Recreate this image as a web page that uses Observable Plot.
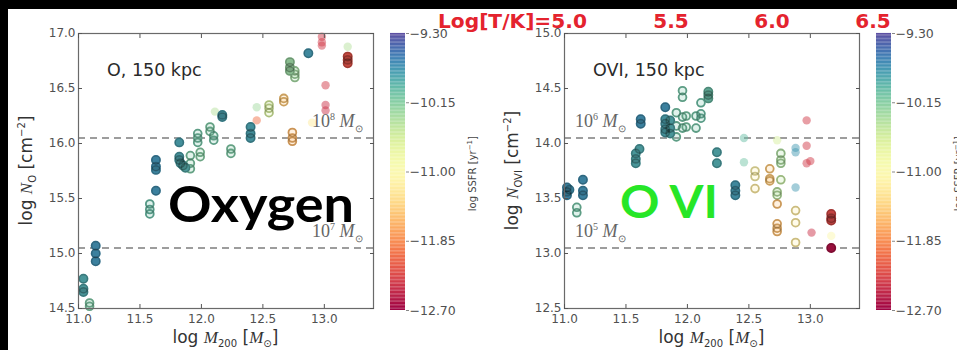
<!DOCTYPE html>
<html>
<head>
<meta charset="utf-8">
<script src="https://cdn.jsdelivr.net/npm/d3@7"></script>
<script src="https://cdn.jsdelivr.net/npm/@observablehq/plot@0.6"></script>
<style>
  html, body { margin: 0; padding: 0; background: #000; }
  #stage { position: relative; width: 957px; height: 350px; overflow: hidden; background: #000;
           font-family: "DejaVu Sans", sans-serif; }
  #sheet { position: absolute; left: 8px; top: 9px; width: 949px; height: 341px; background: #fff; }
  .layer { position: absolute; top: 0; }
  .lbl { position: absolute; white-space: nowrap; line-height: 1; }
  .m { font-family: "Liberation Serif", "DejaVu Serif", serif; font-style: italic; }
  .title { color: #333; font-size: 17px; }
  .title sub, .title sup { font-size: 10px; }
  .mass { font-family: "Liberation Serif", serif; color: #666; font-size: 18px; }
  .mass sup, .mass sub { font-size: 10px; }
  .note { color: #2a2a2a; font-size: 17.5px; }
  .cbtitle { color: #444; font-size: 10px; }
  .cbtitle sup { font-size: 7px; }
</style>
</head>
<body>
<div id="stage"><div id="sheet"></div></div>
<script>
// ---- shared axes ----
const massTicks = [11.0, 11.5, 12.0, 12.5, 13.0];
const massDomain = [11.0, 13.4];
const ssfrTicks = [-9.30, -10.15, -11.00, -11.85, -12.70];
const ssfrDomain = [-12.70, -9.30];
const tempTicks = [5.0, 5.5, 6.0, 6.5];

// ---- oxygen column densities within 150 kpc ----
const oxTicks = [14.5, 15.0, 15.5, 16.0, 16.5, 17.0];
const oxMass = [11.04, 11.04, 11.04, 11.09, 11.09, 11.14, 11.14, 11.14,
  11.58, 11.58, 11.58, 11.63, 11.63, 11.63, 11.63,
  11.82, 11.82, 11.82, 11.83, 11.85, 11.87, 11.91, 11.91, 11.91,
  11.97, 11.97, 11.97, 11.99, 11.99, 12.07, 12.07, 12.10, 12.10, 12.11,
  12.17, 12.17, 12.24, 12.24, 12.40, 12.40, 12.40, 12.45, 12.45,
  12.55, 12.55, 12.55, 12.67, 12.67, 12.74, 12.74, 12.74,
  12.72, 12.72, 12.72, 12.76, 12.76, 12.76, 12.87, 12.90,
  12.98, 12.98, 12.98, 13.01, 13.01, 13.01, 13.19, 13.19, 13.19, 13.19];
const oxColumn = [14.77, 14.68, 14.65, 14.55, 14.52, 15.07, 15.00, 14.93,
  15.45, 15.40, 15.36, 15.85, 15.79, 15.76, 15.57,
  16.01, 15.88, 15.85, 15.82, 15.80, 15.78, 15.89, 15.82, 15.77,
  16.09, 16.05, 16.01, 15.92, 15.88, 16.15, 16.11, 16.07, 16.03, 16.29,
  16.26, 16.24, 15.95, 15.91, 16.15, 16.09, 16.05, 16.33, 16.21,
  16.35, 16.32, 16.28, 16.41, 16.38, 16.10, 16.05, 16.02,
  16.74, 16.69, 16.66, 16.66, 16.63, 16.60, 16.82, 16.19,
  16.97, 16.92, 16.89, 16.53, 16.35, 16.30, 16.88, 16.79, 16.76, 16.73];
const oxSsfr = [-9.85, -9.85, -9.85, -10.10, -10.10, -9.70, -9.70, -9.70,
  -10.00, -10.00, -10.00, -9.70, -9.70, -9.72, -9.70,
  -9.80, -9.82, -9.82, -9.85, -9.85, -9.88, -10.10, -10.10, -10.10,
  -10.05, -10.05, -10.05, -10.15, -10.15, -10.10, -10.10, -10.05, -10.05, -10.40,
  -9.80, -9.80, -10.10, -10.10, -9.80, -9.80, -9.80, -10.30, -12.00,
  -10.60, -10.60, -10.60, -11.50, -11.50, -11.60, -11.60, -11.60,
  -10.25, -10.25, -10.25, -10.30, -10.30, -10.30, -9.75, -11.20,
  -12.35, -12.35, -12.35, -12.35, -12.40, -12.40, -10.40, -12.20, -12.20, -12.20];
const oxKind = ["solid", "solid", "solid", "open", "open", "solid", "solid", "solid",
  "open", "open", "open", "solid", "solid", "solid", "solid",
  "solid", "solid", "solid", "solid", "solid", "solid", "open", "open", "open",
  "open", "open", "open", "open", "open", "open", "open", "open", "open", "faint",
  "solid", "solid", "open", "open", "solid", "solid", "solid", "faint", "faint",
  "open", "open", "open", "open", "open", "open", "open", "open",
  "solid", "solid", "solid", "open", "open", "open", "solid", "faint",
  "faint", "faint", "faint", "faint", "faint", "faint", "faint", "solid", "solid", "solid"];
const oxLimits = [16.05, 15.05];
const oxLimitExp = ["8", "7"];

// ---- O VI column densities within 150 kpc ----
const oviTicks = [12.5, 13.0, 13.5, 14.0, 14.5, 15.0];
const oviMass = [11.02, 11.02, 11.02, 11.04, 11.10, 11.10, 11.15, 11.15, 11.15,
  11.62, 11.62, 11.58, 11.58, 11.58, 11.61,
  11.82, 11.82, 11.82, 11.82, 11.82, 11.86, 11.86, 11.86,
  11.91, 11.91, 11.91, 11.96, 11.96, 11.96, 11.96, 11.99, 11.99,
  12.07, 12.07, 12.11, 12.11, 12.11, 12.17, 12.17, 12.17, 12.24, 12.24,
  12.39, 12.39, 12.39, 12.46, 12.46, 12.55, 12.55, 12.55, 12.67, 12.67, 12.67,
  12.73, 12.73, 12.73, 12.73, 12.73, 12.73, 12.73, 12.76, 12.76, 12.76, 12.76,
  12.88, 12.88, 12.88, 12.88, 12.88, 12.88, 12.97, 12.97, 12.97, 13.00, 13.01,
  13.17, 13.17, 13.17, 13.17, 13.17];
const oviColumn = [13.60, 13.56, 13.53, 13.58, 13.42, 13.37, 13.67, 13.57, 13.53,
  14.22, 14.18, 13.91, 13.86, 13.82, 13.95,
  14.33, 14.22, 14.18, 14.13, 14.10, 14.21, 14.14, 14.09,
  14.28, 14.16, 14.06, 14.48, 14.42, 14.24, 14.14, 14.25, 14.15,
  14.25, 14.14, 14.37, 14.27, 14.23, 14.47, 14.44, 14.41, 13.92, 13.82,
  13.62, 13.57, 13.53, 14.05, 13.83, 13.75, 13.70, 13.59, 13.77, 13.68, 13.66,
  14.03, 13.56, 13.53, 13.45, 13.27, 13.23, 13.20, 13.91, 13.85, 13.82, 13.67,
  13.96, 13.92, 13.60, 13.39, 13.28, 13.10, 14.21, 13.98, 13.82, 13.84, 13.19,
  13.36, 13.32, 13.30, 13.16, 13.05];
const oviSsfr = [-9.70, -9.70, -9.70, -9.72, -10.05, -10.05, -9.70, -9.70, -9.70,
  -9.70, -9.70, -9.85, -9.85, -9.85, -9.85,
  -9.70, -9.80, -9.80, -9.82, -9.82, -9.85, -9.85, -9.85,
  -10.05, -10.05, -10.05, -10.05, -10.05, -10.05, -10.05, -10.08, -10.08,
  -10.05, -10.05, -10.02, -10.02, -10.02, -10.00, -10.00, -10.00, -9.85, -9.85,
  -9.75, -9.75, -9.75, -10.00, -10.05, -11.10, -11.10, -11.20, -11.50, -11.50, -11.50,
  -10.60, -10.40, -10.40, -11.55, -11.55, -11.55, -11.55, -10.35, -10.35, -10.35, -10.45,
  -9.75, -9.75, -9.75, -11.20, -11.20, -11.20, -12.35, -12.35, -12.35, -12.35, -12.40,
  -12.25, -12.25, -12.25, -11.00, -12.60];
const oviKind = ["solid", "solid", "solid", "solid", "open", "open", "solid", "solid", "solid",
  "solid", "solid", "solid", "solid", "solid", "solid",
  "solid", "solid", "solid", "solid", "solid", "solid", "solid", "solid",
  "open", "open", "open", "open", "open", "open", "open", "open", "open",
  "open", "open", "open", "open", "open", "solid", "solid", "solid", "solid", "solid",
  "solid", "solid", "solid", "faint", "faint", "open", "open", "open", "open", "open", "open",
  "faint", "open", "open", "open", "open", "open", "open", "open", "open", "open", "open",
  "faint", "faint", "faint", "open", "open", "open", "faint", "faint", "faint", "faint", "faint",
  "solid", "solid", "solid", "faint", "solid"];
const oviLimits = [14.05, 13.05];
const oviLimitExp = ["6", "5"];

const stage = document.getElementById("stage");
const minus = s => s.replace("-", "\u2212");

function addLabel(html, cls, left, top) {
  const el = document.createElement("div");
  el.className = "lbl " + cls;
  el.innerHTML = html;
  el.style.left = left + "px";
  el.style.top = top + "px";
  stage.appendChild(el);
  return el;
}

function panel({left, mass, column, ssfr, kind, yDomain, yTicks, limits, limitExp,
                yTitle, note, massAlign}) {
  const rows = mass.map((m, i) => ({m, n: column[i], s: ssfr[i], k: kind[i]}));
  const color = {type: "linear", scheme: "spectral", domain: ssfrDomain};
  const axisStyle = {fill: "#505050", stroke: "#555", strokeWidth: 1};
  const plot = Plot.plot({
    width: 400, height: 350,
    marginLeft: 78, marginRight: 27, marginTop: 33, marginBottom: 42,
    style: {background: "transparent", fontFamily: "DejaVu Sans", fontSize: "12px", color: "#505050"},
    x: {domain: massDomain},
    y: {domain: yDomain},
    color,
    marks: [
      Plot.ruleY(limits, {stroke: "#7d7d7d", strokeWidth: 1.6, strokeDasharray: "7,5"}),
      Plot.dot(rows, {filter: d => d.k === "faint", x: "m", y: "n", r: 4.2, fill: "s", fillOpacity: 0.5}),
      Plot.dot(rows, {filter: d => d.k === "open", x: "m", y: "n", r: 3.9, fill: "s", fillOpacity: 0.22,
                      stroke: "s", strokeWidth: 1.8}),
      Plot.dot(rows, {filter: d => d.k === "open", x: "m", y: "n", r: 3.9, stroke: "#000", strokeOpacity: 0.2,
                      strokeWidth: 1.8}),
      Plot.dot(rows, {filter: d => d.k === "solid", x: "m", y: "n", r: 4.2, fill: "s", stroke: "s"}),
      Plot.dot(rows, {filter: d => d.k === "solid", x: "m", y: "n", r: 4.2, fill: "#000", fillOpacity: 0.12,
                      stroke: "#000", strokeOpacity: 0.25}),
      Plot.frame({stroke: "#6a6a6a", strokeWidth: 1.2}),
      Plot.axisX({ticks: massTicks, tickFormat: d => d.toFixed(1), tickSize: -4, tickPadding: 10,
                  label: null, ...axisStyle}),
      Plot.axisX({anchor: "top", ticks: massTicks, tickFormat: () => "", tickSize: -4, label: null, stroke: "#555"}),
      Plot.axisY({ticks: yTicks, tickFormat: d => d.toFixed(1), tickSize: -4, tickPadding: 7,
                  label: null, ...axisStyle}),
      Plot.axisY({anchor: "right", ticks: yTicks, tickFormat: () => "", tickSize: -4, label: null, stroke: "#555"})
    ]
  });
  plot.classList.add("layer");
  plot.style.left = left + "px";
  stage.appendChild(plot);

  const xs = plot.scale("x"), ys = plot.scale("y");
  const fx0 = left + xs.range[0], fx1 = left + xs.range[1];
  const fy0 = ys.range[1], fy1 = ys.range[0];

  // axis titles
  const xt = addLabel('log <span class="m">M</span><sub>200</sub> [<span class="m">M</span><sub>\u2299</sub>]',
                      "title", 0, 329);
  xt.style.left = ((fx0 + fx1) / 2 - xt.offsetWidth / 2) + "px";
  const yt = addLabel(yTitle, "title", 0, 0);
  yt.style.left = (left + 28 - yt.offsetWidth / 2) + "px";
  yt.style.top = ((fy0 + fy1) / 2 - yt.offsetHeight / 2) + "px";
  yt.style.transform = "rotate(-90deg)";

  // in-panel note
  addLabel(note, "note", fx0 + 29, fy0 + 29);

  // reference mass labels above the dashed lines
  limits.forEach((v, i) => {
    const el = addLabel(`10<sup>${limitExp[i]}</sup> <span class="m">M</span><sub>\u2299</sub>`, "mass", 0, 0);
    const x = massAlign === "right" ? fx1 - 10 - el.offsetWidth : fx0 + 11;
    el.style.left = x + "px";
    el.style.top = (ys.apply(v) - 10 - el.offsetHeight + 6) + "px";
  });
  return plot;
}

function colorbar(left) {
  const n = 200, step = (ssfrDomain[1] - ssfrDomain[0]) / n;
  const edges = d3.range(n).map(i => ssfrDomain[0] + i * step);
  const plot = Plot.plot({
    width: 80, height: 350,
    marginLeft: 0, marginRight: 65, marginTop: 33, marginBottom: 40,
    style: {background: "transparent", fontFamily: "DejaVu Sans", fontSize: "12.5px", color: "#505050"},
    x: {domain: [0, 1], axis: null},
    y: {domain: ssfrDomain},
    color: {type: "linear", scheme: "spectral", domain: ssfrDomain},
    marks: [
      Plot.rect(edges, {x1: 0, x2: 1, y1: d => d, y2: d => d + step * 1.05, fill: d => d + step / 2}),
      Plot.axisY({anchor: "right", ticks: ssfrTicks, tickFormat: d => minus(d.toFixed(2)),
                  tickSize: 3, tickPadding: 1, label: null, fill: "#505050", stroke: "#888"})
    ]
  });
  plot.classList.add("layer");
  plot.style.left = left + "px";
  stage.appendChild(plot);
  const t = addLabel('log SSFR [yr<sup>\u22121</sup>]', "cbtitle", 0, 0);
  t.style.left = (left + 82 - t.offsetWidth / 2) + "px";
  t.style.top = (173 - t.offsetHeight / 2) + "px";
  t.style.transform = "rotate(-90deg)";
}

panel({left: 0, mass: oxMass, column: oxColumn, ssfr: oxSsfr, kind: oxKind,
       yDomain: [14.5, 17.0], yTicks: oxTicks, limits: oxLimits, limitExp: oxLimitExp,
       yTitle: 'log <span class="m">N</span><sub>O</sub> [cm<sup>\u22122</sup>]',
       note: "O, 150 kpc", massAlign: "right"});
colorbar(390);
panel({left: 486, mass: oviMass, column: oviColumn, ssfr: oviSsfr, kind: oviKind,
       yDomain: [12.5, 15.0], yTicks: oviTicks, limits: oviLimits, limitExp: oviLimitExp,
       yTitle: 'log <span class="m">N</span><sub>OVI</sub> [cm<sup>\u22122</sup>]',
       note: "OVI, 150 kpc", massAlign: "left"});
colorbar(876);

// headline annotations drawn over the panels
const over = d3.select(stage).append("svg")
  .attr("class", "layer").attr("width", 957).attr("height", 350)
  .style("left", "0px").style("pointer-events", "none");
const tempX = d3.scaleLinear().domain([5.0, 6.5]).range([570, 873]);
tempTicks.forEach((t, i) => {
  const first = i === 0;
  const txt = (first ? "Log[T/K]=" : "") + t.toFixed(1);
  const node = over.append("text")
    .attr("x", first ? tempX(t) - 132 : tempX(t))
    .attr("y", 28)
    .attr("text-anchor", first ? "start" : "middle")
    .attr("font-family", "DejaVu Sans").attr("font-weight", "bold").attr("font-size", 20)
    .attr("fill", "#e4232e")
    .text(txt);
  if (first) node.attr("textLength", 149).attr("lengthAdjust", "spacingAndGlyphs");
});
over.append("text").attr("x", 168).attr("y", 222)
  .attr("font-family", "Lato").attr("font-weight", 700).attr("font-size", 50)
  .attr("textLength", 186).attr("lengthAdjust", "spacingAndGlyphs")
  .attr("fill", "#000").text("Oxygen");
over.append("text").attr("x", 620).attr("y", 218)
  .attr("font-family", "Lato").attr("font-weight", 700).attr("font-size", 46)
  .attr("textLength", 98).attr("lengthAdjust", "spacingAndGlyphs")
  .attr("fill", "#27e627").text("O VI");
</script>
</body>
</html>
